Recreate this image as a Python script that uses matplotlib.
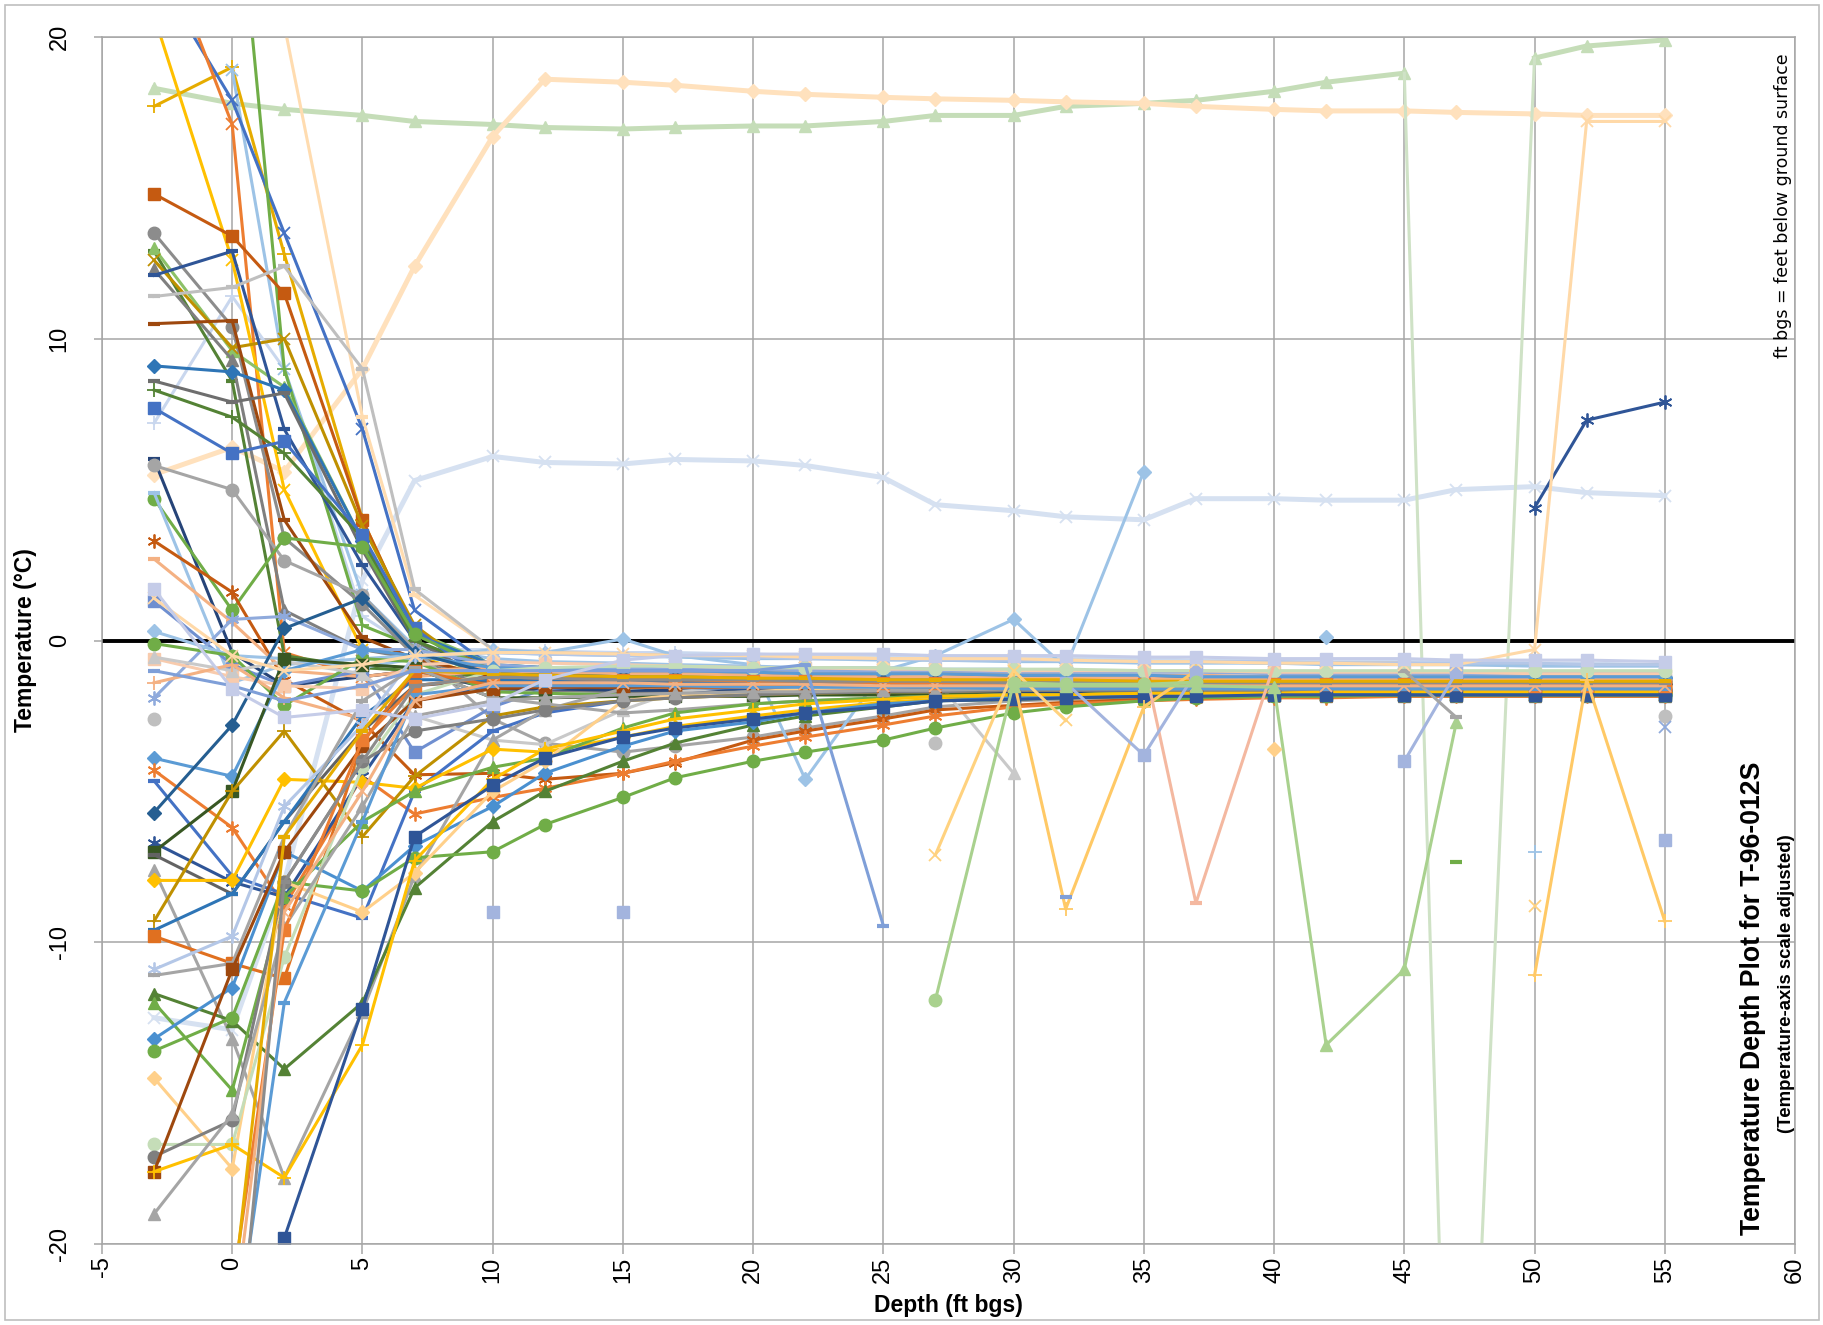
import numpy as np
import matplotlib
matplotlib.use("Agg")
import matplotlib.pyplot as plt
from matplotlib.patches import Rectangle

plt.rcParams['font.family'] = ['Liberation Sans', 'DejaVu Sans']
plt.rcParams['axes.unicode_minus'] = False

n = np.nan

# depth of each logger (ft bgs)
depth = [-3, 0, 2, 5, 7, 10, 12, 15, 17, 20, 22, 25, 27, 30, 32, 35, 37, 40, 42, 45, 47, 50, 52, 55]

# temperature profiles (deg C), one list per reading date
t01 = [18.3, 17.8, 17.6, 17.4, 17.2, 17.1, 17.0, 16.95, 17.0, 17.05, 17.05, 17.2, 17.4, 17.4, 17.7, 17.8, 17.9, 18.2, 18.5, 18.8, n, 19.3, 19.7, 19.9]
t01b = [n, n, n, n, n, n, n, n, n, n, n, n, n, n, n, n, n, n, n, 18.8, -39, 19.3, n, n]
t02 = [5.5, 6.4, 5.6, 9.0, 12.4, 16.7, 18.6, 18.5, 18.4, 18.2, 18.1, 18.0, 17.95, 17.9, 17.85, 17.8, 17.7, 17.6, 17.55, 17.55, 17.5, 17.45, 17.4, 17.4]
t03 = [-12.5, -12.9, -8.0, 2.0, 5.3, 6.1, 5.9, 5.85, 6.0, 5.95, 5.8, 5.4, 4.5, 4.3, 4.1, 4.0, 4.7, 4.7, 4.65, 4.65, 5.0, 5.1, 4.9, 4.8]
t04 = [7.2, 11.4, 9.0, 0.8, -0.3, -0.3, -0.35, -0.4, -0.4, -0.45, -0.5, -0.5, -0.55, -0.55, -0.6, -0.6, -0.65, -0.65, -0.7, -0.7, -0.7, -0.75, -0.75, -0.8]
t05 = [17.7, 19.0, 12.8, 4.0, 0.3, -0.9, -1.0, -1.05, -1.1, -1.15, -1.2, -1.2, -1.25, -1.25, -1.3, -1.3, -1.3, -1.3, -1.35, -1.35, -1.35, -1.35, -1.4, -1.4]
t06 = [n, 18.9, 9.0, 1.5, -0.2, -0.6, -0.7, -0.75, -0.8, -0.85, -0.9, -0.9, -0.95, -0.95, -1.0, -1.0, -1.0, -1.05, -1.05, -1.1, -1.1, -1.1, -1.1, -1.1]
t07 = [22.2, 17.9, 13.5, 7.0, 1.0, -0.9, -1.0, -1.05, -1.1, -1.15, -1.2, -1.2, -1.25, -1.25, -1.3, -1.3, -1.3, -1.35, -1.35, -1.35, -1.4, -1.4, -1.4, -1.4]
t08 = [23.8, 17.1, -0.4, -1.2, -1.0, -1.1, -1.15, -1.2, -1.2, -1.25, -1.3, -1.3, -1.3, -1.35, -1.35, -1.35, -1.4, -1.4, -1.4, -1.4, -1.4, -1.45, -1.45, -1.45]
t09 = [20.7, 12.6, 5.0, -0.3, -0.5, -1.3, -1.35, -1.4, -1.4, -1.45, -1.5, -1.5, -1.5, -1.55, -1.55, -1.55, -1.6, -1.6, -1.6, -1.6, -1.6, -1.6, -1.6, -1.6]
t10 = [n, 27.0, 9.0, 0.5, -0.2, -1.3, -1.35, -1.4, -1.45, -1.5, -1.5, -1.55, -1.55, -1.6, -1.6, -1.6, -1.6, -1.65, -1.65, -1.65, -1.65, -1.65, -1.65, -1.65]
t11 = [n, n, 20.4, 7.4, 1.5, -0.3, -0.4, -0.45, -0.5, -0.5, -0.55, -0.6, -0.6, -0.65, -0.65, -0.7, -0.7, -0.75, -0.75, -0.75, -0.8, -0.8, -0.8, -0.8]
t12 = [14.8, 13.4, 11.5, 4.0, 0.3, -1.0, -1.05, -1.1, -1.15, -1.2, -1.2, -1.25, -1.25, -1.3, -1.3, -1.3, -1.35, -1.35, -1.35, -1.35, -1.35, -1.4, -1.4, -1.4]
t13 = [13.5, 10.4, 3.4, 1.2, -0.5, -1.5, -1.5, -1.55, -1.55, -1.6, -1.6, -1.6, -1.65, -1.65, -1.65, -1.7, -1.7, -1.7, -1.7, -1.7, -1.7, -1.7, -1.7, -1.7]
t14 = [12.9, 8.6, -0.5, -0.9, -1.0, -1.2, -1.25, -1.3, -1.3, -1.35, -1.4, -1.4, -1.45, -1.45, -1.5, -1.5, -1.5, -1.5, -1.5, -1.5, -1.55, -1.55, -1.55, -1.55]
t15 = [13.0, 9.6, 8.4, 3.3, 0.3, -0.8, -0.9, -0.95, -1.0, -1.05, -1.05, -1.1, -1.1, -1.15, -1.15, -1.2, -1.2, -1.2, -1.25, -1.25, -1.25, -1.25, -1.25, -1.25]
t16 = [12.6, 9.7, 10.0, 3.8, 0.5, -1.4, -1.5, -1.6, -1.65, -1.7, -1.7, -1.75, -1.75, -1.75, -1.8, -1.8, -1.8, -1.8, -1.8, -1.8, -1.8, -1.8, -1.8, -1.8]
t17 = [12.3, 9.3, 1.0, -0.3, -0.6, -1.6, -1.65, -1.7, -1.7, -1.75, -1.75, -1.75, -1.8, -1.8, -1.8, -1.8, -1.8, -1.8, -1.85, -1.85, -1.85, -1.85, -1.85, -1.85]
t18 = [12.1, 12.9, 7.0, 2.5, 0.0, -1.1, -1.2, -1.25, -1.3, -1.35, -1.4, -1.4, -1.45, -1.45, -1.5, -1.5, -1.5, -1.5, -1.5, -1.5, -1.5, -1.5, -1.5, -1.5]
t19 = [11.4, 11.7, 12.4, 9.0, 1.7, -0.3, -0.4, -0.45, -0.5, -0.55, -0.6, -0.6, -0.65, -0.65, -0.7, -0.7, -0.7, -0.75, -0.75, -0.75, -0.8, -0.8, -0.8, -0.8]
t20 = [10.5, 10.6, 4.0, 0.1, -0.6, -1.2, -1.25, -1.3, -1.3, -1.35, -1.35, -1.4, -1.4, -1.4, -1.45, -1.45, -1.45, -1.45, -1.5, -1.5, -1.5, -1.5, -1.5, -1.5]
t21 = [9.1, 8.9, 8.3, 3.3, 0.2, -0.8, -0.9, -0.95, -1.0, -1.0, -1.05, -1.1, -1.1, -1.15, -1.15, -1.2, -1.2, -1.2, -1.2, -1.25, -1.25, -1.25, -1.25, -1.25]
t22 = [8.6, 7.9, 8.2, 3.0, 0.0, -1.4, -1.45, -1.5, -1.55, -1.6, -1.6, -1.65, -1.65, -1.65, -1.7, -1.7, -1.7, -1.7, -1.7, -1.7, -1.75, -1.75, -1.75, -1.75]
t23 = [8.3, 7.4, 6.2, 3.4, 0.0, -1.0, -1.05, -1.1, -1.15, -1.2, -1.25, -1.25, -1.3, -1.3, -1.3, -1.35, -1.35, -1.35, -1.35, -1.4, -1.4, -1.4, -1.4, -1.4]
t24 = [7.7, 6.2, 6.6, 3.5, 0.4, -1.5, -1.55, -1.6, -1.6, -1.65, -1.65, -1.7, -1.7, -1.7, -1.7, -1.75, -1.75, -1.75, -1.75, -1.75, -1.75, -1.75, -1.75, -1.75]
t25 = [6.0, -0.4, -1.5, -1.2, -1.0, -1.6, -1.6, -1.65, -1.65, -1.7, -1.7, -1.7, -1.7, -1.75, -1.75, -1.75, -1.75, -1.75, -1.75, -1.75, -1.75, -1.75, -1.75, -1.75]
t26 = [5.8, 5.0, 2.65, 1.5, -0.3, -2.6, -3.4, -3.7, -3.5, -3.2, -2.9, -2.5, -2.2, -2.0, -1.95, -1.9, -1.85, -1.85, -1.8, -1.8, -1.8, -1.8, -1.8, -1.8]
t27 = [4.7, 1.0, 3.4, 3.1, 0.2, -1.0, -1.05, -1.1, -1.15, -1.2, -1.2, -1.25, -1.25, -1.3, -1.3, -1.3, -1.3, -1.35, -1.35, -1.35, -1.35, -1.35, -1.35, -1.35]
t28 = [4.9, -1.4, -0.8, -0.6, -0.5, -0.4, -0.45, -0.5, -0.55, -0.6, -0.6, -0.65, -0.65, -0.7, -0.7, -0.75, -0.75, -0.75, -0.8, -0.8, -0.8, -0.85, -0.85, -0.85]
t29 = [3.3, 1.6, -1.3, -2.7, -4.45, -4.4, -4.6, -4.4, -4.05, -3.3, -3.0, -2.6, -2.3, -2.15, -2.05, -1.95, -1.9, -1.85, -1.85, -1.8, -1.8, -1.8, -1.8, -1.8]
t30 = [2.7, 0.6, -1.0, -1.2, -1.0, -0.9, -0.95, -1.0, -1.0, -1.05, -1.05, -1.1, -1.1, -1.1, -1.15, -1.15, -1.15, -1.2, -1.2, -1.2, -1.2, -1.2, -1.2, -1.2]
t31 = [1.7, -1.6, -2.55, -2.3, -2.6, -2.1, -1.3, -0.65, -0.5, -0.45, -0.45, -0.45, -0.5, -0.5, -0.5, -0.55, -0.55, -0.6, -0.6, -0.6, -0.65, -0.65, -0.65, -0.7]
t32 = [1.3, -0.8, -1.5, -1.0, -3.7, -2.2, -1.6, -1.45, -1.4, -1.35, -1.35, -1.3, -1.3, -1.3, -1.3, -1.3, -1.3, -1.3, -1.3, -1.3, -1.3, -1.3, -1.3, -1.3]
t33 = [-1.9, 0.7, 0.8, -0.3, -0.3, -0.8, -0.9, -0.9, -0.95, -0.95, -1.0, -1.0, -1.0, -1.05, -1.05, -1.05, -1.05, -1.1, -1.1, -1.1, -1.1, -1.1, -1.1, -1.1]
t34 = [0.3, -0.5, -0.6, -0.9, -0.6, -0.3, -0.4, 0.05, -0.5, -0.8, -4.6, -1.0, -0.5, 0.7, -0.9, 5.6, n, n, 0.1, n, n, n, n, n]
t35 = [-0.1, -0.5, -2.15, -0.6, -0.7, -1.7, -1.75, -1.8, -1.8, -1.8, -1.8, -1.8, -1.8, -1.8, -1.8, -1.75, -1.75, -1.75, -1.75, -1.75, -1.75, -1.75, -1.75, -1.75]
t36 = [-0.6, -1.2, -1.5, -1.6, -0.8, -0.7, -0.75, -0.8, -0.85, -0.9, -0.9, -0.95, -0.95, -1.0, -1.0, -1.0, -1.0, -1.05, -1.05, -1.05, -1.05, -1.1, -1.1, -1.1]
t37 = [-0.55, -1.0, -0.7, -1.1, -2.5, -3.3, -3.45, -2.3, -1.7, -1.5, -1.5, -1.45, -1.3, -4.4, n, n, n, n, n, n, n, n, n, n]
t38 = [-1.4, -0.8, -1.9, -2.6, -1.2, -1.0, -1.05, -1.1, -1.1, -1.15, -1.2, -1.2, -1.2, -1.25, -1.25, -1.25, -1.3, -1.3, -1.3, -1.3, -1.3, -1.3, -1.3, -1.3]
t39 = [-2.6, n, n, n, n, n, n, n, n, n, n, n, -3.4, n, n, n, n, n, n, n, n, n, n, -2.5]
t40 = [-3.9, -4.5, -1.0, -0.3, -0.5, -0.9, -0.95, -1.0, -1.0, -1.05, -1.1, -1.1, -1.1, -1.15, -1.15, -1.15, -1.2, -1.2, -1.2, -1.2, -1.2, -1.2, -1.2, -1.2]
t41 = [-4.3, -6.2, -8.8, -4.5, -5.75, -5.2, -4.9, -4.4, -4.0, -3.5, -3.2, -2.8, -2.5, -2.2, -2.1, -2.0, -1.95, -1.9, -1.9, -1.85, -1.85, -1.85, -1.85, -1.85]
t42 = [-4.65, -7.8, -8.4, -9.2, -5.0, -3.0, -2.4, -2.0, -1.8, -1.7, -1.65, -1.6, -1.6, -1.55, -1.55, -1.55, -1.5, -1.5, -1.5, -1.5, -1.5, -1.5, -1.5, -1.5]
t43 = [-5.7, -2.8, 0.4, 1.4, -0.4, -1.1, -1.15, -1.2, -1.25, -1.3, -1.3, -1.35, -1.35, -1.4, -1.4, -1.4, -1.4, -1.45, -1.45, -1.45, -1.45, -1.45, -1.45, -1.45]
t44 = [-6.7, -8.0, -8.5, -4.5, -2.0, -1.5, -1.5, -1.55, -1.55, -1.6, -1.6, -1.6, -1.6, -1.65, -1.65, -1.65, -1.65, -1.65, -1.65, -1.65, n, 4.4, 7.3, 7.9]
t45 = [-7.0, -5.0, -0.6, -0.8, -0.9, -1.9, -1.9, -1.85, -1.85, -1.85, -1.8, -1.8, -1.8, -1.8, -1.8, -1.8, -1.8, -1.8, -1.8, -1.8, -1.8, -1.8, -1.8, -1.8]
t46 = [-7.1, -8.4, -6.0, -3.0, -1.5, -1.3, -1.35, -1.4, -1.4, -1.45, -1.45, -1.5, -1.5, -1.5, -1.55, -1.55, -1.55, -1.55, -1.55, -1.55, -1.55, -1.55, -1.55, -1.55]
t47 = [-7.6, -13.2, -17.8, -12.3, -7.8, -3.3, -2.3, -1.6, -1.5, -1.45, -1.4, -1.4, -1.4, -1.4, -1.4, -1.4, -1.45, -1.45, -1.45, -1.45, -1.45, -1.45, -1.45, -1.45]
t48 = [-7.95, -7.95, -4.6, -4.7, -4.9, -3.6, -3.7, -3.2, -2.85, -2.5, -2.3, -2.05, -1.95, -1.85, -1.8, -1.75, -1.75, -1.7, -1.7, -1.7, -1.7, -1.7, -1.7, -1.7]
t49 = [-9.3, -5.0, -3.0, -6.5, -4.5, -2.5, -2.2, -2.0, -1.9, -1.8, -1.75, -1.7, -1.7, -1.65, -1.65, -1.6, -1.6, -1.6, -1.6, -1.6, -1.6, -1.6, -1.6, -1.6]
t50 = [-9.6, -8.4, -6.0, -2.5, -1.3, -1.3, -1.3, -1.35, -1.35, -1.4, -1.4, -1.4, -1.45, -1.45, -1.45, -1.45, -1.5, -1.5, -1.5, -1.5, -1.5, -1.5, -1.5, -1.5]
t51 = [-9.8, -10.7, -11.2, -3.4, -1.0, -1.5, -1.5, -1.55, -1.55, -1.55, -1.6, -1.6, -1.6, -1.6, -1.6, -1.6, -1.6, -1.6, -1.6, -1.6, -1.6, -1.6, -1.6, -1.6]
t52 = [-10.9, -9.8, -5.5, -2.8, -0.5, -0.4, -0.45, -0.5, -0.5, -0.55, -0.6, -0.6, -0.65, -0.65, -0.65, -0.7, -0.7, -0.7, -0.75, -0.75, -0.75, -0.75, -0.8, -0.8]
t53 = [-11.1, -10.7, -6.5, -2.0, -0.9, -1.9, -2.1, -2.4, -2.3, -2.1, -2.0, -1.9, -1.85, -1.8, -1.8, -1.8, -1.75, -1.75, -1.75, -1.75, -1.75, -1.75, -1.75, -1.75]
t54 = [-11.7, -12.6, -14.2, -12.0, -8.2, -6.0, -5.0, -4.0, -3.4, -2.8, -2.5, -2.2, -2.0, -1.95, -1.9, -1.85, -1.85, -1.8, -1.8, -1.8, -1.8, -1.8, -1.8, -1.8]
t55 = [-12.0, -14.9, -8.5, -6.0, -5.0, -4.2, -3.9, -2.9, -2.4, -2.1, -2.0, -1.9, -1.85, -1.8, -1.8, -1.75, -1.75, -1.75, -1.7, -1.7, -1.7, -1.7, -1.7, -1.7]
t56 = [-13.2, -11.5, -7.0, -8.3, -6.8, -5.5, -4.4, -3.5, -3.0, -2.7, -2.4, -2.1, -2.0, -1.9, -1.85, -1.8, -1.8, -1.8, -1.8, -1.8, -1.8, -1.8, -1.8, -1.8]
t57 = [-13.6, -12.5, -8.0, -8.3, -7.2, -7.0, -6.1, -5.2, -4.55, -4.0, -3.7, -3.3, -2.9, -2.4, -2.2, -2.0, -1.9, -1.85, -1.85, -1.8, -1.8, -1.8, -1.8, -1.8]
t58 = [-14.5, -17.5, -8.0, -9.0, -7.7, -5.0, -4.0, -2.0, -1.8, -1.7, -1.6, -1.55, -1.5, -1.5, -1.5, -1.5, -1.5, -1.5, -1.5, -1.5, -1.5, -1.5, -1.5, -1.5]
t59 = [-16.7, -16.7, -10.5, -4.2, -1.8, -1.0, -0.9, -0.85, -0.85, -0.9, -0.9, -0.9, -0.95, -0.95, -0.95, -1.0, -1.0, -1.0, -1.0, -1.0, -1.0, -1.0, -1.0, -1.0]
t60 = [-17.1, -15.9, -8.0, -4.0, -3.0, -2.6, -2.3, -2.0, -1.9, -1.8, -1.75, -1.7, -1.7, -1.65, -1.65, -1.65, -1.65, -1.65, -1.65, -1.65, -1.65, -1.65, -1.65, -1.65]
t61 = [-17.6, -10.9, -7.0, -3.5, -2.0, -1.6, -1.55, -1.55, -1.5, -1.5, -1.5, -1.5, -1.5, -1.5, -1.5, -1.5, -1.5, -1.5, -1.5, -1.5, -1.5, -1.5, -1.5, -1.5]
t62 = [-17.6, -16.7, -17.8, -13.4, -7.3, -4.6, -3.6, -3.0, -2.6, -2.3, -2.1, -1.95, -1.85, -1.8, -1.8, -1.75, -1.75, -1.75, -1.7, -1.7, -1.7, -1.7, -1.7, -1.7]
t63 = [-19.0, -15.7, -9.5, -5.5, -2.5, -2.0, -1.9, -1.8, -1.75, -1.7, -1.7, -1.65, -1.65, -1.6, -1.6, -1.6, -1.6, -1.6, -1.6, -1.6, -1.6, -1.6, -1.6, -1.6]
t64 = [n, n, -19.8, -12.2, -6.5, -4.8, -3.9, -3.2, -2.9, -2.6, -2.4, -2.2, -2.0, -1.95, -1.9, -1.85, -1.85, -1.8, -1.8, -1.8, -1.8, -1.8, -1.8, -1.8]
t65 = [n, -21.5, -9.6, -3.3, -1.5, -1.2, -1.25, -1.3, -1.3, -1.35, -1.35, -1.4, -1.4, -1.4, -1.45, -1.45, -1.45, -1.45, -1.45, -1.45, -1.45, -1.5, -1.5, -1.5]
t66 = [n, -24.0, -12.0, -6.0, -1.8, -1.5, -1.5, -1.5, -1.5, -1.55, -1.55, -1.55, -1.55, -1.6, -1.6, -1.6, -1.6, -1.6, -1.6, -1.6, -1.6, -1.6, -1.6, -1.6]
t67 = [n, -23.0, -9.0, -5.0, -2.0, -1.4, -1.4, -1.4, -1.45, -1.45, -1.45, -1.5, -1.5, -1.5, -1.5, -1.5, -1.5, -1.5, -1.5, -1.5, -1.5, -1.5, -1.5, -1.5]
t68 = [n, -26.0, -8.0, -4.0, -1.5, -1.2, -1.25, -1.3, -1.3, -1.3, -1.35, -1.35, -1.35, -1.4, -1.4, -1.4, -1.4, -1.4, -1.4, -1.4, -1.4, -1.4, -1.4, -1.4]
t69 = [n, -22.0, -6.5, -3.0, -1.0, -1.1, -1.15, -1.2, -1.2, -1.25, -1.25, -1.3, -1.3, -1.3, -1.3, -1.35, -1.35, -1.35, -1.35, -1.35, -1.35, -1.35, -1.35, -1.35]
t70 = [-1.0, -1.5, -2.0, -1.5, -1.0, -1.0, -1.0, -1.0, -1.0, -1.0, -0.8, -9.45, n, n, n, n, n, n, n, n, n, n, n, n]
t71 = [n, n, n, n, n, n, n, n, n, n, n, n, -7.1, -1.0, -2.65, n, n, n, n, n, n, -8.8, n, n]
t72 = [n, n, n, n, n, n, n, n, n, n, n, n, n, -1.3, -8.9, -2.2, -1.0, n, n, n, n, -11.1, -1.3, -9.3]
t73 = [n, n, n, n, n, n, n, n, n, n, n, n, n, n, n, -0.7, -8.7, -0.8, n, n, n, n, n, n]
t74 = [n, n, n, n, n, -9.0, n, -9.0, n, n, n, n, n, n, -1.4, -3.8, -1.05, n, n, -4.0, -1.05, n, n, -6.6]
t75 = [n, n, n, n, n, n, n, n, n, n, n, n, -11.9, -1.4, -1.45, -1.45, -1.38, n, n, n, n, n, n, n]
t76 = [n, n, n, n, n, n, n, n, n, n, n, n, n, -1.5, -1.5, -1.5, -1.5, -1.55, -13.4, -10.9, -2.7, n, n, n]
t77 = [n, n, n, n, n, n, n, n, n, n, n, n, n, n, n, n, n, n, n, n, -7.35, n, n, n]
t78 = [n, n, n, n, n, n, n, n, n, n, n, n, n, n, n, n, n, n, n, n, n, -7.0, n, n]
t79 = [n, n, n, n, n, n, n, n, n, n, n, n, n, n, n, n, n, -3.6, n, n, n, n, n, n]
t80 = [n, n, n, n, n, n, n, n, n, n, n, n, n, n, n, n, n, n, n, n, n, n, n, -2.85]
t81 = [n, n, n, n, n, n, n, n, n, n, n, n, n, n, -8.5, n, n, n, n, n, n, n, n, n]
t82 = [n, n, n, n, n, n, n, n, n, n, n, n, n, n, n, n, n, n, n, -1.0, -2.55, n, n, n]
t83 = [1.4, -0.5, -1.0, -0.8, -0.5, -0.4, -0.4, -0.45, -0.5, -0.5, -0.55, -0.6, -0.6, -0.6, -0.65, -0.7, -0.7, -0.75, -0.75, -0.8, -0.8, -0.3, 17.2, 17.2]

series = [t01, t02, t03, t01b, t04, t05, t06, t07, t08, t09, t10, t11, t12, t13, t14, t15, t16, t17,
          t18, t19, t20, t21, t22, t23, t24, t25, t26, t27, t28, t29, t30, t32, t33, t34, t35,
          t36, t37, t38, t39, t40, t41, t42, t43, t44, t45, t46, t47, t48, t49, t50, t51, t52,
          t53, t54, t55, t56, t57, t58, t59, t60, t61, t62, t63, t64, t65, t66, t67, t68, t69,
          t70, t71, t72, t73, t74, t75, t76, t77, t78, t79, t80, t81, t82, t83, t31]

colors = ['#C5DDB8', '#FFE1BD', '#D6E1F1', '#CFE2C6', '#C9D7EE', '#E6AC00', '#9DC3E6', '#4472C4', '#ED7D31',
          '#FFC000', '#70AD47', '#FFDCB0', '#C55A11', '#8C8C8C', '#548235', '#8CC168', '#BF9000',
          '#7F7F7F', '#2F5597', '#BFBFBF', '#9E480E', '#2E75B6', '#6E6E6E', '#548235', '#4472C4',
          '#264478', '#A5A5A5', '#70AD47', '#9DC3E6', '#C55A11', '#F4B183', '#6F8FD0', '#8FAADC',
          '#9DC3E6', '#70AD47', '#F8CBAD', '#C9C9C9', '#F4B183', '#BFBFBF', '#5B9BD5', '#ED7D31',
          '#4472C4', '#255E91', '#2F5597', '#385723', '#636363', '#A5A5A5', '#FFC000', '#BF9000',
          '#2E75B6', '#E07020', '#B4C7E7', '#A5A5A5', '#548235', '#70AD47', '#4A90D0', '#70AD47',
          '#FFD08A', '#C5DDB8', '#7F7F7F', '#9E480E', '#FFC000', '#A5A5A5', '#2F5597', '#ED7D31',
          '#5B9BD5', '#F4B183', '#8C8C8C', '#E6AC00', '#7F9FD8', '#FFD27F', '#FFC966', '#F4B8A0',
          '#A3B4DE', '#A9D18E', '#A9D18E', '#70AD47', '#9DC3E6', '#FFD08A', '#8FAADC', '#7F9FD8',
          '#A5A5A5', '#FFD9A8', '#C5CCE8']

markers = ['^', 'D', 'x', 'none', '+', '+', 'x', 'x', 'x', 'x', '+', '_', 's', 'o', '_', '^', 'x', '^',
           '_', '_', '_', 'D', '_', '+', 's', '_', 'o', 'o', '_', 'star', '_', 's', 'star', 'D', 'o',
           's', '^', '+', 'o', 'D', 'star', '_', 'D', 'star', 's', '_', '^', 'D', '+', '_', 's', 'star',
           '_', '^', '^', 'D', 'o', 'D', 'o', 'o', 's', '+', '^', 's', 's', '_', 'x', '_', '_',
           '_', 'x', '+', '_', 's', 'o', '^', '_', '+', 'D', 'x', '_', '_', 'x', 's']

thick = {0, 1, 2}

msize = {'s': 8.5, 'o': 9, '^': 9, 'D': 7.5, 'x': 9, '+': 10, '_': 9, 'star': 10, 'none': 0}
mshape = {'star': (6, 2, 0)}

fig = plt.figure(figsize=(18.24, 13.25), dpi=100)
ax = fig.add_axes([0.0559, 0.0611, 0.9282, 0.911])
ax.set_xlim(-5, 60)
ax.set_ylim(-20, 20)
ax.set_xticks(range(-5, 61, 5))
ax.set_yticks(range(-20, 21, 10))
ax.grid(True, color='#A6A6A6', lw=1.1)
ax.set_axisbelow(True)
for sp in ax.spines.values():
    sp.set_color('#A6A6A6')
    sp.set_linewidth(1.1)

ax.axhline(0, color='black', lw=2.8, zorder=1.8)

for i, (vals, c, m) in enumerate(zip(series, colors, markers)):
    lw = 3.6 if i in thick else 2.2
    mew = 1.3 if m in ('x', '+', 'star') else (3.0 if m == '_' else 1.0)
    ax.plot(depth, vals, color=c, lw=lw, marker=mshape.get(m, m), ms=msize[m],
            mfc=c, mec=c, mew=mew, zorder=2)

ax.tick_params(axis='x', direction='out', length=7, width=1.1, color='#A6A6A6',
               labelsize=17, pad=2, labelrotation=90)
ax.tick_params(axis='y', direction='out', length=5.5, width=1.1, color='#A6A6A6',
               labelsize=17, pad=17, labelrotation=90)
for lab in ax.get_yticklabels():
    lab.set_va('center')

fig.text(0.0141, 0.517, 'Temperature (°C)', rotation=90, ha='center', va='center',
         fontsize=16.5, fontweight='bold')
fig.text(0.52, 0.015, 'Depth (ft bgs)', ha='center', va='center',
         fontsize=16.5, fontweight='bold')
fig.text(0.961, 0.2468, 'Temperature Depth Plot for T-96-012S', rotation=90,
         ha='center', va='center', fontsize=19.2, fontweight='bold')
fig.text(0.9795, 0.258, '(Temperature-axis scale adjusted)', rotation=90,
         ha='center', va='center', fontsize=13.4, fontweight='bold')
fig.text(0.9777, 0.8445, 'ft bgs = feet below ground surface', rotation=90,
         ha='center', va='center', fontsize=12.5, family='DejaVu Sans')

fig.patches.append(Rectangle((0.003, 0.004), 0.994, 0.992, transform=fig.transFigure,
                             fill=False, ec='#BFBFBF', lw=1.2))

fig.savefig('out.png', dpi=100)
